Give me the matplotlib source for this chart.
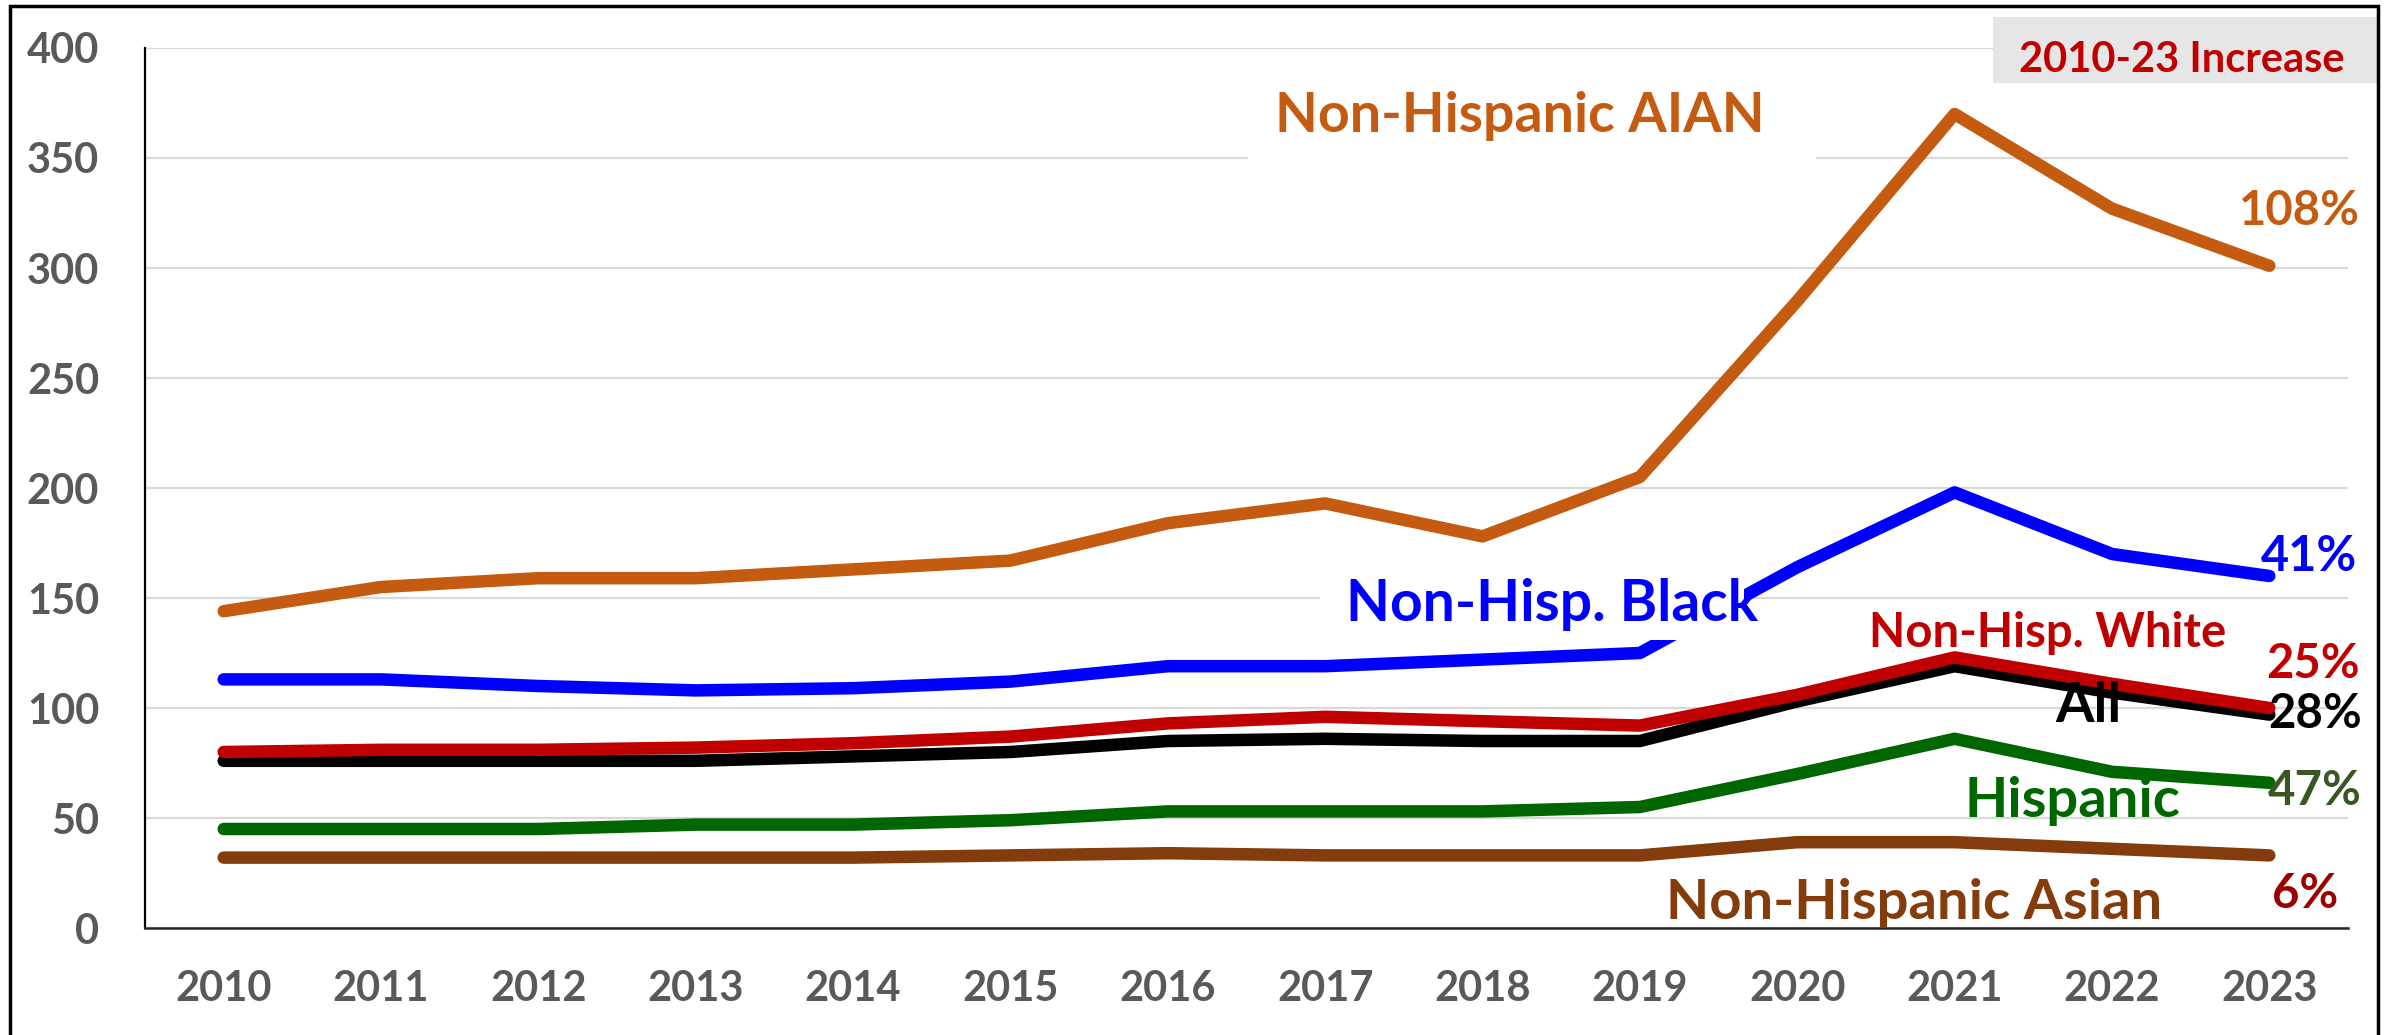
import matplotlib
matplotlib.use('Agg')
import matplotlib.pyplot as plt
from matplotlib.patches import Rectangle

# rates by year
years = ['2010', '2011', '2012', '2013', '2014', '2015', '2016',
         '2017', '2018', '2019', '2020', '2021', '2022', '2023']
aian = [144, 155, 159, 159, 163, 167, 184, 193, 178, 205, 285, 370, 327, 301]
black = [113, 113, 110, 108, 109, 112, 119, 119, 122, 125, 164, 198, 170, 160]
white = [80, 81, 81, 82, 84, 87, 93, 96, 94, 92, 106, 123, 111, 100]
all_groups = [76, 76, 76, 76, 78, 80, 85, 86, 85, 85, 103, 119, 107, 97]
hispanic = [45, 45, 45, 47, 47, 49, 53, 53, 53, 55, 70, 86, 71, 66]
asian = [32, 32, 32, 32, 32, 33, 34, 33, 33, 33, 39, 39, 36, 33]

series_labels = ['Non-Hispanic AIAN', 'Non-Hisp. Black', 'Non-Hisp. White',
                 'All', 'Hispanic', 'Non-Hispanic Asian']
pct_labels = ['108%', '41%', '25%', '28%', '47%', '6%']
header = '2010-23 Increase'

plt.rcParams['font.family'] = ['Lato', 'DejaVu Sans']
plt.rcParams['font.weight'] = 'bold'

W, H = 2389, 1035
fig = plt.figure(figsize=(W / 100, H / 100), dpi=100)
ax = fig.add_axes([145 / W, 1 - 928 / H, (2348 - 145) / W, (928 - 48) / H])

x = list(range(len(years)))
line_kw = dict(lw=9, solid_capstyle='round', solid_joinstyle='round', zorder=3)
ax.plot(x, asian, color='#843C0C', **line_kw)
ax.plot(x, hispanic, color='#006600', **line_kw)
ax.plot(x, all_groups, color='#000000', **line_kw)
ax.plot(x, white, color='#C00000', **line_kw)
ax.plot(x, black, color='#0000FF', **line_kw)
ax.plot(x, aian, color='#C55A11', **line_kw)

ax.set_xlim(-0.5, len(years) - 0.5)
ax.set_ylim(0, 400)
ax.set_xticks(x)
ax.set_xticklabels(years)
ax.set_yticks(range(0, 401, 50))
ax.tick_params(axis='both', length=0, labelsize=30, labelcolor='#595959')
ax.tick_params(axis='y', pad=33)
ax.tick_params(axis='x', pad=30)
ax.yaxis.grid(True, color='#D9D9D9', lw=1.6)
ax.set_axisbelow(True)
for side in ['top', 'right']:
    ax.spines[side].set_visible(False)
ax.spines['left'].set_linewidth(1.6)
ax.spines['bottom'].set_linewidth(1.8)
ax.spines['bottom'].set_color('#262626')

# white boxes behind two of the series labels
ax.add_patch(Rectangle((6.51, 344), 3.61, 46, fc='white', ec='none', zorder=4))
ax.add_patch(Rectangle((6.97, 131), 2.69, 36, fc='white', ec='none', zorder=4))

label_kw = dict(ha='center', va='baseline', fontweight='bold', zorder=5)
ax.text(8.24, 361.8, series_labels[0], color='#C55A11', fontsize=40, **label_kw)
ax.text(8.44, 139.5, series_labels[1], color='#0000FF', fontsize=41, **label_kw)
ax.text(11.59, 127.7, series_labels[2], color='#C00000', fontsize=34, **label_kw)
ax.text(11.85, 93.6, series_labels[3], color='#000000', fontsize=40, **label_kw)
ax.text(11.75, 50.5, series_labels[4], color='#006600', fontsize=40.5, **label_kw)
ax.text(10.74, 4.1, series_labels[5], color='#843C0C', fontsize=40.5, **label_kw)

ax.text(13.19, 319.5, pct_labels[0], color='#C55A11', fontsize=34, **label_kw)
ax.text(13.25, 162.3, pct_labels[1], color='#0000FF', fontsize=35, **label_kw)
ax.text(13.28, 113.6, pct_labels[2], color='#C00000', fontsize=34, **label_kw)
ax.text(13.29, 90.9, pct_labels[3], color='#000000', fontsize=34, **label_kw)
ax.text(13.29, 55.9, pct_labels[4], color='#385723', fontsize=34, **label_kw)
ax.text(13.23, 9.1, pct_labels[5], color='#990000', fontsize=34, **label_kw)

# header box, top right
fig.add_artist(Rectangle((1993 / W, 1 - 83 / H), (2377 - 1993) / W, 66 / H,
                         transform=fig.transFigure, fc='#E7E6E6', ec='none'))
fig.text(2182 / W, 1 - 72 / H, header, ha='center', va='baseline',
         color='#C00000', fontsize=30, fontweight='bold')

# outer frame (bottom edge is cut off in the reference)
fig.add_artist(Rectangle((10 / W, -0.02), (2378 - 10) / W, 1 - 6 / H + 0.02,
                         transform=fig.transFigure, fill=False, ec='black', lw=2.5))

fig.savefig('out.png', dpi=100)
